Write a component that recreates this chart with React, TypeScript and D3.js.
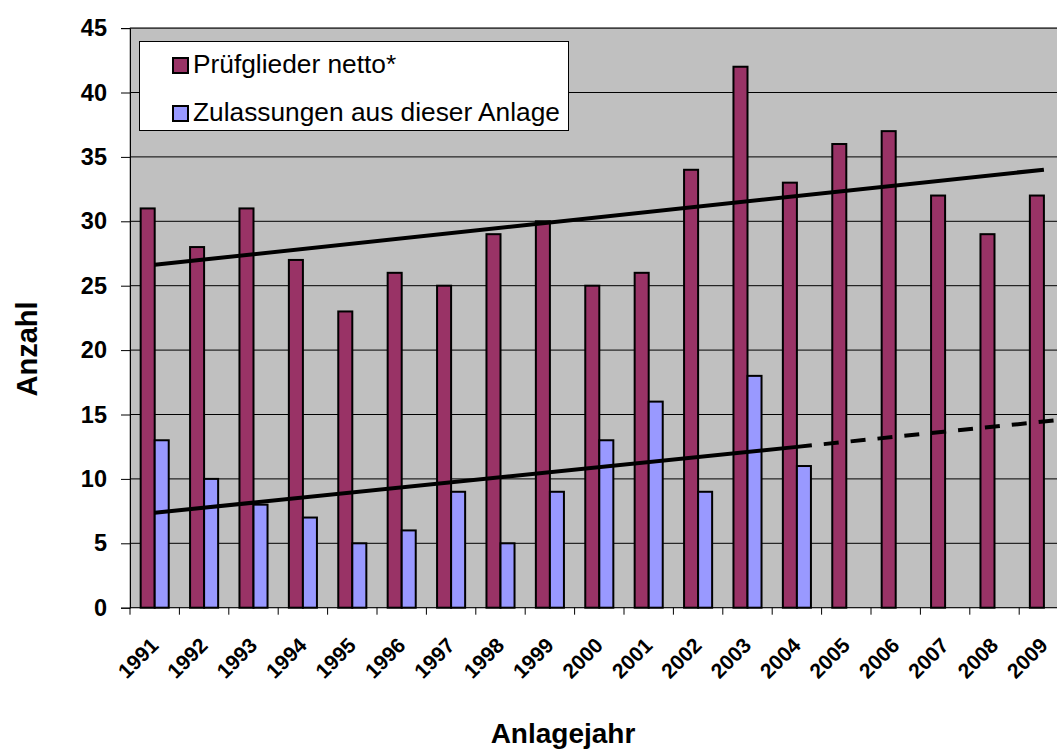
import React, { useEffect, useRef } from "react";
import * as d3 from "d3";

const years = ["1991", "1992", "1993", "1994", "1995", "1996", "1997", "1998", "1999", "2000", "2001", "2002", "2003", "2004", "2005", "2006", "2007", "2008", "2009"];
const pruefglieder = [31, 28, 31, 27, 23, 26, 25, 29, 30, 25, 26, 34, 42, 33, 36, 37, 32, 29, 32];
const zulassungen = [13, 10, 8, 7, 5, 6, 9, 5, 9, 13, 16, 9, 18, 11];
const seriesNames = ["Prüfglieder netto*", "Zulassungen aus dieser Anlage"];
const seriesColors = ["#993366", "#9999FF"];
const yTicks = [0, 5, 10, 15, 20, 25, 30, 35, 40, 45];

// simple least squares fit, x = index
function fit(vals: number[]) {
  const xs = vals.map((v, i) => i);
  const mx = d3.mean(xs) as number;
  const my = d3.mean(vals) as number;
  const sxy = d3.sum(vals, (v, i) => (i - mx) * (v - my));
  const sxx = d3.sum(xs, (i) => (i - mx) * (i - mx));
  const b = sxy / sxx;
  return (i: number) => my + b * (i - mx);
}

function App() {
  const svgRef = useRef<SVGSVGElement>(null);

  useEffect(() => {
    const W = 1057;
    const H = 749;
    const left = 130;
    const right = 1068.6;
    const top = 28.1;
    const bottom = 607.7;
    const font = "Arial, 'Liberation Sans', sans-serif";

    const svg = d3.select(svgRef.current).attr("width", W).attr("height", H);
    svg.selectAll("*").remove();

    const x0 = d3.scaleBand().domain(years).range([left, right]).padding(0);
    const x1 = d3.scaleBand().domain(seriesNames).range([0, x0.bandwidth()]).paddingInner(0).paddingOuter(0.76);
    const y = d3.scaleLinear().domain([0, 45]).range([bottom, top]);
    const cx = (i: number) => (x0(years[0]) as number) + x0.step() * (i + 0.5);

    svg.append("defs").append("clipPath").attr("id", "plotclip")
      .append("rect").attr("x", left).attr("y", top - 3).attr("width", right - left).attr("height", bottom - top + 6);

    // plot background
    svg.append("rect")
      .attr("x", left).attr("y", top)
      .attr("width", right - left).attr("height", bottom - top)
      .attr("fill", "#C0C0C0").attr("stroke", "#808080");

    // gridlines
    svg.append("g").selectAll("line").data(yTicks.filter((t) => t > 0)).join("line")
      .attr("x1", left).attr("x2", right)
      .attr("y1", (d) => y(d)).attr("y2", (d) => y(d))
      .attr("stroke", "#000").attr("stroke-width", 1);

    // y axis
    const yAxis = svg.append("g").attr("transform", `translate(${left},0)`)
      .call(d3.axisLeft(y).tickValues(yTicks).tickSize(9).tickPadding(14));
    yAxis.select(".domain").attr("stroke", "#000");
    yAxis.selectAll("text")
      .attr("font-family", font).attr("font-size", 23.5).attr("font-weight", "bold").attr("fill", "#000");

    // x axis
    const xAxis = svg.append("g").attr("transform", `translate(0,${bottom})`);
    xAxis.append("line").attr("x1", left).attr("x2", right).attr("y1", 0).attr("y2", 0).attr("stroke", "#000");
    xAxis.selectAll("line.tick").data(d3.range(years.length + 1)).join("line")
      .attr("class", "tick")
      .attr("x1", (i) => left + x0.step() * i).attr("x2", (i) => left + x0.step() * i)
      .attr("y1", 0).attr("y2", 7).attr("stroke", "#000");
    xAxis.selectAll("text").data(years).join("text")
      .attr("transform", (d, i) => `translate(${cx(i) + 5},${39}) rotate(-45)`)
      .attr("text-anchor", "end")
      .style("font-family", font).style("font-size", "21px").style("font-weight", "bold")
      .text((d) => d);

    // bars
    const bars = svg.append("g").attr("clip-path", "url(#plotclip)");
    [pruefglieder, zulassungen].forEach((vals, s) => {
      bars.append("g").selectAll("rect").data(vals).join("rect")
        .attr("x", (v, i) => (x0(years[i]) as number) + (x1(seriesNames[s]) as number))
        .attr("y", (v) => y(v))
        .attr("width", x1.bandwidth())
        .attr("height", (v) => bottom - y(v))
        .attr("fill", seriesColors[s])
        .attr("stroke", "#000").attr("stroke-width", 2);
    });

    // trend lines (solid fit, dashed forecast for Zulassungen)
    const tl = svg.append("g").attr("clip-path", "url(#plotclip)");
    const f1 = fit(pruefglieder);
    const f2 = fit(zulassungen);
    tl.append("path")
      .attr("d", d3.line<number>().x((i) => cx(i)).y((i) => y(f1(i)))([0, years.length - 1]))
      .attr("stroke", "#000").attr("stroke-width", 4).attr("fill", "none");
    tl.append("path")
      .attr("d", d3.line<number>().x((i) => cx(i)).y((i) => y(f2(i)))([0, zulassungen.length - 1]))
      .attr("stroke", "#000").attr("stroke-width", 4).attr("fill", "none");
    tl.append("path")
      .attr("d", d3.line<number>().x((i) => cx(i)).y((i) => y(f2(i)))([zulassungen.length - 1, years.length]))
      .attr("stroke", "#000").attr("stroke-width", 4).attr("fill", "none")
      .attr("stroke-dasharray", "15 12");

    // legend
    const lg = svg.append("g");
    lg.append("rect").attr("x", 139.5).attr("y", 41.5).attr("width", 429).attr("height", 89)
      .attr("fill", "#fff").attr("stroke", "#000");
    seriesNames.forEach((name, s) => {
      const by = 73 + s * 48;
      lg.append("rect").attr("x", 173).attr("y", by - 15).attr("width", 15).attr("height", 15)
        .attr("fill", seriesColors[s]).attr("stroke", "#000").attr("stroke-width", 2);
      lg.append("text").attr("x", 193).attr("y", by)
        .attr("font-family", font).attr("font-size", 26.3).text(name);
    });

    // axis titles
    svg.append("text")
      .attr("transform", `translate(37,${349}) rotate(-90)`)
      .attr("text-anchor", "middle")
      .attr("font-family", font).attr("font-size", 29).attr("font-weight", "bold")
      .text("Anzahl");
    svg.append("text")
      .attr("x", 563).attr("y", 743)
      .attr("text-anchor", "middle")
      .attr("font-family", font).attr("font-size", 28).attr("font-weight", "bold")
      .text("Anlagejahr");
  }, []);

  return (
    <div style={{ position: "fixed", left: 0, top: 0, background: "#fff" }}>
      <svg ref={svgRef} style={{ display: "block" }}></svg>
    </div>
  );
}

export default App;
